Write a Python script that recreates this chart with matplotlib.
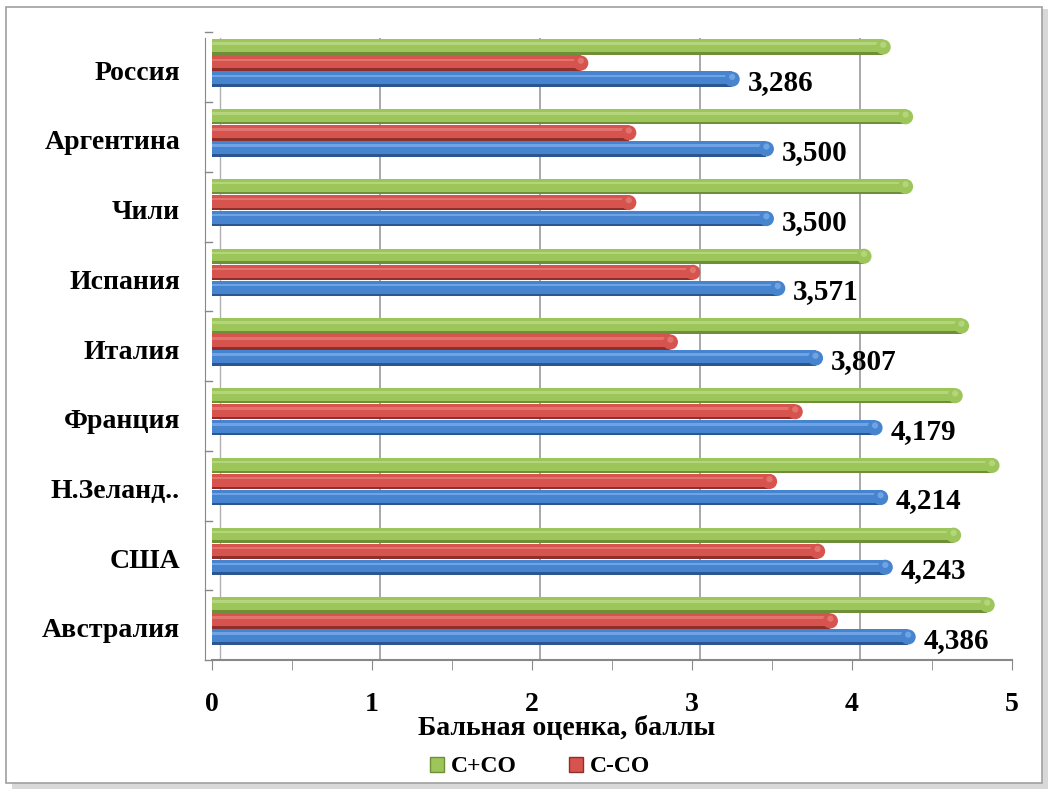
import matplotlib.pyplot as plt
import matplotlib.patches as mpatches
import numpy as np

plt.rcParams['font.family'] = ['Liberation Serif', 'DejaVu Serif']
plt.rcParams['font.weight'] = 'bold'

# data (bottom to top)
countries = ['Австралия', 'США', 'Н.Зеланд..', 'Франция', 'Италия',
             'Испания', 'Чили', 'Аргентина', 'Россия']
s_plus_co = [4.88, 4.67, 4.91, 4.68, 4.72, 4.11, 4.37, 4.37, 4.23]
s_minus_co = [3.90, 3.82, 3.52, 3.68, 2.90, 3.04, 2.64, 2.64, 2.34]
total = [4.386, 4.243, 4.214, 4.179, 3.807, 3.571, 3.500, 3.500, 3.286]

W, H = 1053, 793
fig = plt.figure(figsize=(W / 100, H / 100), dpi=100)

# outer chart frame with a soft shadow
fig.patches.append(mpatches.Rectangle((12 / W, 4 / H), 1036 / W, 780 / H, transform=fig.transFigure,
                                      facecolor='#d8d8d8', edgecolor='none', zorder=-2))
fig.patches.append(mpatches.Rectangle((6 / W, 10 / H), 1036 / W, 776 / H, transform=fig.transFigure,
                                      facecolor='white', edgecolor='#a0a0a0', lw=1.2, zorder=-1))

ax = fig.add_axes([212 / W, 1 - 660 / H, 800 / W, 622 / H])
ax.set_facecolor('none')
y = np.arange(len(countries))
h = 0.22
r = 0.035  # tip radius in data units


def cylinder(ypos, vals, base, light, dark):
    # cylinder look: body, highlight band, shaded underside, rounded tip
    ends = np.array(vals) - r
    ax.barh(ypos, ends, height=h, color=base, edgecolor='none', zorder=3)
    ax.barh(ypos + h * 0.22, ends, height=h * 0.16, color=light, edgecolor='none', zorder=4)
    ax.barh(ypos - h * 0.42, ends, height=h * 0.16, color=dark, edgecolor='none', zorder=4)
    ax.scatter(ends, ypos, s=118, color=base, edgecolors='none', zorder=5)
    ax.scatter(ends, ypos + h * 0.15, s=20, color=light, edgecolors='none', zorder=6)


cylinder(y + 0.33, s_plus_co, '#9dc65a', '#b4d57c', '#6e8e37')
cylinder(y + 0.10, s_minus_co, '#d7534e', '#e27470', '#8f2f2c')
cylinder(y - 0.13, total, '#4784d0', '#6fa3e3', '#2b5690')

for yi, v in zip(y, total):
    ax.text(v + 0.06, yi - 0.18, f'{v:.3f}'.replace('.', ','), ha='left', va='center',
            fontsize=21, fontweight='bold', zorder=7)

ax.set_xlim(0, 5)
ax.set_ylim(-0.46, 8.46)

# back-wall gridlines
for gx in range(1, 6):
    ax.axvline(gx + 0.05, color='#9a9a9a', lw=1.2, zorder=1)
ax.plot([0.05, 0.05], [-0.46, 8.46], color='#b0b0b0', lw=1, zorder=1)

ax.set_yticks(y)
ax.set_yticklabels(countries)
ax.tick_params(axis='y', length=0, pad=18, labelsize=20)
for b in np.arange(-0.5, 9, 1):
    ax.plot([-0.045, 0], [b + 0.04, b + 0.04], color='#888888', lw=1, clip_on=False, zorder=2)

ax.set_xticks(range(6))
ax.set_xticklabels([str(i) for i in range(6)])
ax.set_xticks(np.arange(0.5, 5, 1), minor=True)
ax.tick_params(axis='x', which='both', direction='out', length=7, color='#888888', pad=16,
               labelsize=20)

for side in ['top', 'right']:
    ax.spines[side].set_visible(False)
ax.spines['bottom'].set_color('#888888')
ax.spines['left'].set_color('#888888')
ax.spines['left'].set_position(('outward', 5))
ax.spines['bottom'].set_linewidth(1.5)

fig.text(567 / W, 1 - 728 / H, 'Бальная оценка, баллы', ha='center', va='center',
         fontsize=20, fontweight='bold')

handles = [mpatches.Patch(facecolor='#9dc65a', edgecolor='#6e8e37', label='С+СО'),
           mpatches.Patch(facecolor='#d7534e', edgecolor='#8f2f2c', label='С-СО')]
fig.legend(handles=handles, loc='center', bbox_to_anchor=(540 / W, 1 - 767 / H), ncol=2,
           frameon=False, fontsize=17, handlelength=0.6, handleheight=0.6,
           handletextpad=0.3, columnspacing=2.2)

fig.savefig('out.png', dpi=100)
